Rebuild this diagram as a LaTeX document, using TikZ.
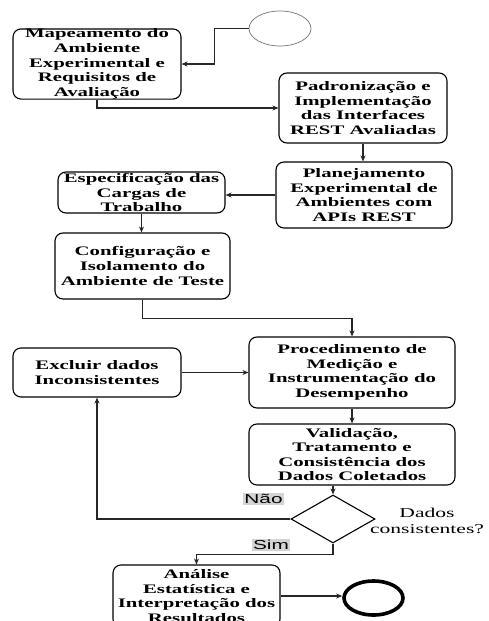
\documentclass[tikz,border=0pt]{standalone}
\usepackage{fontspec}
\setmainfont{Liberation Serif}[FakeStretch=1.6]
\newfontfamily\lblfont{Liberation Sans}[FakeStretch=1.6]
\usetikzlibrary{shapes.geometric,arrows.meta,calc}
\newcommand\boxfont{\fontsize{13}{14.6}\selectfont\bfseries}
\begin{document}
\begin{tikzpicture}[x=1pt,y=-1pt,
  box/.style={draw=black, rounded corners=8pt, line width=1.1pt, align=center, inner sep=0pt, font=\boxfont},
  arr/.style={draw=black!85, line width=1.1pt, -{Stealth[length=6pt,width=5pt]}},
  yn/.style={font=\lblfont\fontsize{13}{14}\selectfont, fill=black!17, inner sep=1.2pt}]
\useasboundingbox (0,0) rectangle (489,621);

\node[ellipse, draw=black!55, line width=0.7pt, minimum width=62pt, minimum height=35pt, inner sep=0pt] (start) at (280,28.5) {};
\node[box, minimum width=168pt, minimum height=70pt] (b1) at (97,64) {Mapeamento do\\Ambiente\\Experimental e\\Requisitos de\\Avaliação};
\node[box, minimum width=168pt, minimum height=70pt] (b2) at (363,108) {Padronização e\\Implementação\\das Interfaces\\REST Avaliadas};
\node[box, minimum width=176pt, minimum height=66pt] (b3) at (364,195) {Planejamento\\Experimental de\\Ambientes com\\APIs REST};
\node[box, minimum width=167pt, minimum height=41pt] (b4) at (141.5,192.5) {Especificação das\\Cargas de\\Trabalho};
\node[box, minimum width=175pt, minimum height=66pt] (b5) at (142.5,266) {Configuração e\\Isolamento do\\Ambiente de Teste};
\node[box, minimum width=206pt, minimum height=71pt] (b6) at (352,372.5) {Procedimento de\\Medição e\\Instrumentação do\\Desempenho};
\node[box, minimum width=168pt, minimum height=49pt] (b7) at (97,372.5) {Excluir dados\\Inconsistentes};
\node[box, minimum width=206pt, minimum height=61pt] (b8) at (352,454.5) {Validação,\\Tratamento e\\Consistência dos\\Dados Coletados};
\node[diamond, draw=black, line width=1.1pt, minimum width=84pt, minimum height=48pt, inner sep=0pt] (dec) at (333,519) {};
\node[align=center, inner sep=0pt, font=\fontsize{13.5}{16}\selectfont] (dq) at (427,521) {Dados\\consistentes?};
\node[box, minimum width=167pt, minimum height=62pt] (b9) at (196.5,596) {Análise\\Estatística e\\Interpretação dos\\Resultados};
\node[ellipse, draw=black, line width=3.6pt, minimum width=59pt, minimum height=34pt, inner sep=0pt] (end) at (373.5,598) {};

\node[yn] (nao) at (263.5,499) {Não};
\node[yn] (sim) at (271,545) {Sim};

\draw[arr] (start.west) -- ++(-34,0) |- (b1.east);
\draw[arr] (b1.south) |- (b2.west);
\draw[arr] (b2.south) -- (b2.south |- b3.north);
\draw[arr] (b3.west) -- (b3.west -| b4.east);
\draw[arr] (b4.south) -- (b4.south |- b5.north);
\draw[arr] (b5.south) -- ++(0,19) -| (b6.north);
\draw[arr] (b7.east) -- (b6.west);
\draw[arr] (b6.south) -- (b8.north);
\draw[arr] (b8.south -| dec.north) -- (dec.north);
\draw[arr] (dec.west) -| (b7.south);
\draw[arr] (dec.south) -- ++(0,11) -| (b9.north);
\draw[arr] (b9.east) -- (b9.east -| end.west);
\end{tikzpicture}
\end{document}
